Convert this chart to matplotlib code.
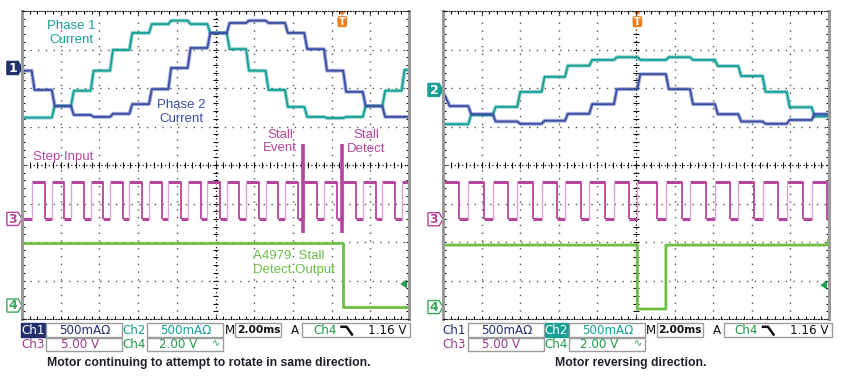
import matplotlib.pyplot as plt
import numpy as np
from matplotlib.patches import Rectangle, Polygon, FancyBboxPatch
from matplotlib.lines import Line2D

W, H = 850, 379

# scope data: time in ms (2 ms/div), vertical in screen divisions (0 = centre)
# left capture - motor keeps trying to rotate the same way
l_rise = [0.50, 1.54, 2.53, 3.55, 4.55, 5.55, 6.56, 7.56, 8.56, 9.58, 10.58,
          11.58, 12.59, 13.59, 14.59, 15.61, 16.60, 17.61, 18.62, 19.62]
l_fall = [1.19, 2.19, 3.20, 4.20, 5.20, 6.22, 7.22, 8.22, 9.24, 10.23, 11.23,
          12.25, 13.25, 14.25, 15.26, 16.26, 17.26, 18.28, 19.28]
l_ph1 = [1.23, 1.23, 1.53, 1.93, 2.45, 2.99, 3.43, 3.66, 3.75, 3.66, 3.43,
         3.01, 2.45, 1.95, 1.51, 1.25, 1.22, 1.25, 1.53, 1.93, 2.47]
l_ph2 = [2.45, 1.95, 1.53, 1.30, 1.25, 1.33, 1.58, 1.97, 2.52, 3.04, 3.43,
         3.69, 3.75, 3.69, 3.43, 3.01, 2.45, 1.90, 1.53, 1.25, 1.25]
l_step_lo, l_step_hi = -1.40, -0.43
l_det_t = [0.0, 16.57, 16.57, 20.0]
l_det_v = [-2.03, -2.03, -3.68, -3.68]
l_cursors = [14.51, 16.52]
l_trig = 16.55

# right capture - motor reversing
r_rise = [1.31, 2.58, 3.85, 5.11, 6.32, 7.58, 8.86, 10.07, 11.55, 12.80,
          14.09, 15.30, 16.56, 17.81, 19.10]
r_fall = [0.84, 2.12, 3.38, 4.65, 5.89, 7.15, 8.39, 9.65, 11.10, 12.37,
          13.63, 14.87, 16.13, 17.37, 18.64, 19.91]
r_ph1 = [1.06, 1.30, 1.51, 1.90, 2.29, 2.58, 2.73, 2.80, 2.73, 2.80, 2.73,
         2.57, 2.31, 1.90, 1.50, 1.26]
r_ph2_start = 1.90
r_ph2 = [1.53, 1.32, 1.13, 1.07, 1.15, 1.33, 1.58, 1.97, 2.36, 1.97, 1.58,
         1.32, 1.13, 1.07, 1.17, 1.32]
r_step_lo, r_step_hi = -1.41, -0.45
r_det_t = [0.0, 10.07, 10.07, 11.55, 11.55, 19.9, 20.0]
r_det_v = [-2.08, -2.08, -3.74, -3.74, -2.08, -2.08, -1.90]
r_trig = 10.07

TEAL = '#16a096'
BLUE = '#3a4ea6'
MAG = '#b5449c'
PINK = '#dca6d2'
GRN = '#6cbf45'
DGRN = '#1f9a4a'
NAVY = '#23306e'
ORANGE = '#ee7d1e'

fig = plt.figure(figsize=(W / 100, H / 100), dpi=100)
fig.patch.set_facecolor('white')


def ftext(x, y, s, **kw):
    fig.text(x / W, 1 - y / H, s, **kw)


def fbox(x0, y0, x1, y1, fc='none', ec='#9c9c9c'):
    fig.add_artist(Rectangle((x0 / W, 1 - y1 / H), (x1 - x0) / W, (y1 - y0) / H,
                             transform=fig.transFigure, fc=fc, ec=ec, lw=1))


def scope_axes(x0, x1):
    ax = fig.add_axes([x0 / W, 1 - 319 / H, (x1 - x0) / W, 308 / H])
    ax.set_xlim(0, 20)
    ax.set_ylim(-4, 4)
    for x in range(2, 20, 2):
        if x != 10:
            ax.axvline(x, color='#555', lw=1.0, ls=(0, (1, 4.6)), zorder=0)
    for y in range(-3, 4):
        if y != 0:
            ax.axhline(y, color='#555', lw=1.0, ls=(0, (1, 4.6)), zorder=0)
    ax.axvline(10, color='#111', lw=0.9, ls=(0, (1, 2)), zorder=0)
    ax.axhline(0, color='#111', lw=0.9, ls=(0, (1, 2)), zorder=0)
    ax.vlines(np.arange(0.4, 20, 0.4), -0.07, 0.07, color='#111', lw=0.8, zorder=0)
    ax.hlines(np.arange(-3.8, 4, 0.2), 9.86, 10.14, color='#111', lw=0.8, zorder=0)
    ax.set_xticks(np.arange(0, 20.01, 0.4))
    ax.set_yticks(np.arange(-4, 4.01, 0.2))
    ax.tick_params(direction='in', length=2.5, width=0.8, top=True, right=True,
                   labelbottom=False, labelleft=False, color='#111')
    for s in ['top', 'bottom']:
        ax.spines[s].set_linestyle((0, (1, 1.5)))
        ax.spines[s].set_color('#222')
    for s in ['left', 'right']:
        ax.spines[s].set_color('#9a9a9a')
        ax.spines[s].set_linewidth(2.2)
    return ax


def current_trace(ax, edges, levels, color, start=None, ramp=0.15):
    bounds = [0.0] + list(edges) + [20.0]
    t, v = [], []
    for i, lev in enumerate(levels):
        t += [bounds[i] + (ramp if i else 0), bounds[i + 1]]
        v += [lev, lev]
    if start is not None:
        t = [0.0] + t
        v = [start] + v
        t[1] = 0.35
    ax.plot(t, v, color=color, lw=2.8, alpha=0.45, solid_joinstyle='round')
    ax.plot(t, v, color=color, lw=1.3)


def step_input(ax, rises, falls, lo, hi, start_high):
    ev = sorted([(t, 1) for t in rises] + [(t, 0) for t in falls])
    state, t0 = start_high, 0.0
    seg_hi, seg_lo = [], []
    for t, kind in ev:
        (seg_hi if state else seg_lo).append((t0, t))
        state, t0 = kind, t
    (seg_hi if state else seg_lo).append((t0, 20.0))
    ax.hlines([hi] * len(seg_hi), [a for a, b in seg_hi], [b for a, b in seg_hi],
              color=MAG, lw=2.2)
    ax.hlines([lo] * len(seg_lo), [a for a, b in seg_lo], [b for a, b in seg_lo],
              color=MAG, lw=2.2)
    ax.vlines(rises, lo, hi, color=PINK, lw=1.0)
    ax.vlines(falls, lo, hi, color=MAG, lw=1.3)


def ch_marker(ax, y, label, color, filled):
    xs = [-0.78, -0.2, 0.0, -0.2, -0.78]
    ys = [y + 0.17, y + 0.17, y, y - 0.17, y - 0.17]
    ax.add_patch(Polygon(list(zip(xs, ys)), closed=True, clip_on=False,
                         fc=color if filled else 'white', ec=color, lw=1))
    ax.text(-0.47, y - 0.01, label, ha='center', va='center', clip_on=False,
            color='white' if filled else color, fontsize=9, fontweight='bold',
            family='DejaVu Sans')


def trig_marker(ax, t):
    ax.add_patch(Polygon([(t - 0.22, 4.0), (t + 0.22, 4.0), (t, 3.88)],
                         closed=True, fc=ORANGE, ec='none', clip_on=False))
    ax.add_patch(FancyBboxPatch((t - 0.23, 3.6), 0.46, 0.25,
                                boxstyle='round,pad=0.02,rounding_size=0.08',
                                fc=ORANGE, ec='none', clip_on=False))
    ax.text(t, 3.72, 'T', ha='center', va='center', color='white',
            fontsize=7, fontweight='bold')


def level_arrow(ax, t, y):
    ax.add_patch(Polygon([(t, y), (t + 0.35, y + 0.12), (t + 0.35, y - 0.12)],
                         closed=True, fc=DGRN, ec='none'))


# ---------- left scope ----------
axL = scope_axes(22, 409)
current_trace(axL, l_rise, l_ph1, TEAL)
current_trace(axL, l_rise, l_ph2, BLUE)
step_input(axL, l_rise, l_fall, l_step_lo, l_step_hi, False)
axL.plot(l_det_t, l_det_v, color=GRN, lw=2.0)
axL.vlines(l_cursors, -1.77, 0.55, color=MAG, lw=2.6)
ch_marker(axL, 2.52, '1', NAVY, True)
ch_marker(axL, -1.40, '3', MAG, False)
ch_marker(axL, -3.65, '4', '#3aa85a', False)
trig_marker(axL, l_trig)
level_arrow(axL, 19.55, -3.09)

# ---------- right scope ----------
axR = scope_axes(443, 829)
current_trace(axR, r_rise, r_ph1, TEAL)
current_trace(axR, r_rise, r_ph2, BLUE, start=r_ph2_start)
step_input(axR, r_rise, r_fall, r_step_lo, r_step_hi, True)
axR.plot(r_det_t, r_det_v, color=GRN, lw=2.0)
ch_marker(axR, 1.95, '2', TEAL, True)
ch_marker(axR, -1.41, '3', MAG, False)
ch_marker(axR, -3.69, '4', '#3aa85a', False)
trig_marker(axR, r_trig)
level_arrow(axR, 19.55, -3.12)

# annotations inside the left scope
lab = dict(family='Liberation Sans', fontsize=9.5, ha='center', va='center',
           linespacing=1.15)
ftext(71, 33, 'Phase 1\nCurrent', color=TEAL, **lab)
ftext(181, 112, 'Phase 2\nCurrent', color=BLUE, **lab)
ftext(280, 141.5, 'Stall\nEvent', color=MAG, **lab)
ftext(366, 142, 'Stall\nDetect', color=MAG, **lab)
ftext(33, 157, 'Step Input', color=MAG, family='Liberation Sans', fontsize=9.5,
      ha='left', va='center')
ftext(253, 263, 'A4979  Stall\nDetect Output', color=GRN, family='Liberation Sans',
      fontsize=9.5, ha='left', va='center', linespacing=1.15)


# settings readout under each scope
def readout(dx, ch1_sel):
    info = dict(family='DejaVu Sans', fontsize=8.6, va='center')
    r1, r2 = 330, 344.5
    if ch1_sel:
        fbox(dx + 21, 323, dx + 45, 337, fc=NAVY, ec=NAVY)
        ftext(dx + 33, r1, 'Ch1', color='white', ha='center', **info)
        ftext(dx + 134.5, r1, 'Ch2', color=TEAL, ha='center', **info)
    else:
        ftext(dx + 33, r1, 'Ch1', color=NAVY, ha='center', **info)
        fbox(dx + 123, 323, dx + 146, 337, fc=TEAL, ec=TEAL)
        ftext(dx + 134.5, r1, 'Ch2', color='white', ha='center', **info)
    fbox(dx + 46, 323, dx + 122, 337)
    ftext(dx + 85, r1, '500mA\u03a9', color=NAVY, ha='center', **info)
    fbox(dx + 147, 323, dx + 223, 337)
    ftext(dx + 186, r1, '500mA\u03a9', color=TEAL, ha='center', **info)
    ftext(dx + 229.5, r1, 'M', color='#111', ha='center', **info)
    fbox(dx + 235, 323, dx + 281, 337)
    ftext(dx + 258.5, r1, '2.00ms', color='#111', ha='center', fontweight='bold',
          family='DejaVu Sans', fontsize=7.7, va='center')
    ftext(dx + 295, r1, 'A', color='#111', ha='center', **info)
    fbox(dx + 302, 323, dx + 410, 337)
    ftext(dx + 325, r1, 'Ch4', color=DGRN, ha='center', **info)
    fig.add_artist(Line2D([(dx + 341.5) / W, (dx + 346.5) / W, (dx + 352) / W],
                          [1 - 326.8 / H, 1 - 326.8 / H, 1 - 334.5 / H],
                          transform=fig.transFigure, color='#111', lw=1.8))
    ftext(dx + 407, r1, '1.16 V', color='#111', ha='right', **info)

    ftext(dx + 33, r2, 'Ch3', color='#9a3a92', ha='center', **info)
    fbox(dx + 46, 338, dx + 122, 351)
    ftext(dx + 80, r2, '5.00 V', color='#9a3a92', ha='center', **info)
    ftext(dx + 134.5, r2, 'Ch4', color=DGRN, ha='center', **info)
    fbox(dx + 147, 338, dx + 223, 351)
    ftext(dx + 178, r2, '2.00 V', color=DGRN, ha='center', **info)
    ftext(dx + 216.5, r2 - 1, '\u223f', color=DGRN, ha='center',
          family='DejaVu Sans', fontsize=7, va='center')


readout(0, True)
readout(421.5, False)

cap = dict(family='Liberation Sans', fontsize=8.85, fontweight='bold',
           color='#1f1f2a', ha='center', va='center')
ftext(209, 363, 'Motor continuing to attempt to rotate in same direction.', **cap)
ftext(631, 363, 'Motor reversing direction.', **cap)

fig.savefig('out.png', dpi=100)
